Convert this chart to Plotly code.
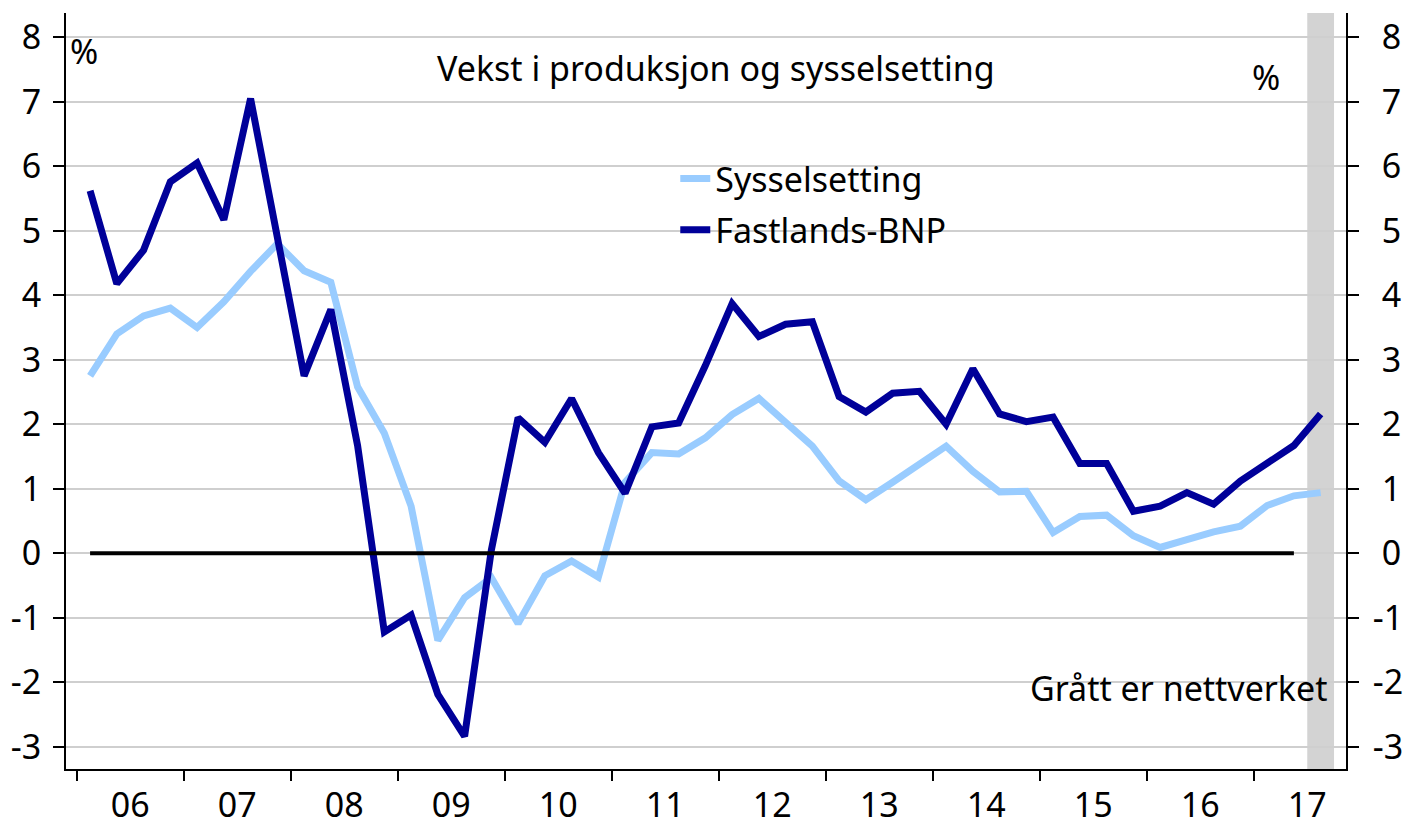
import plotly.graph_objects as go

# ---- data ----
start_year = 2006
n_quarters = 47  # 2006Q1 .. 2017Q3

fastlands_bnp = [5.62, 4.18, 4.70, 5.76, 6.05, 5.17, 7.05, 4.85, 2.75, 3.78,
                 1.67, -1.22, -0.96, -2.19, -2.84, 0.05, 2.10, 1.72, 2.40, 1.56,
                 0.93, 1.96, 2.02, 2.91, 3.87, 3.36, 3.55, 3.59, 2.43, 2.19,
                 2.48, 2.51, 2.00, 2.86, 2.16, 2.04, 2.11, 1.39, 1.39, 0.65,
                 0.73, 0.94, 0.76, 1.12, 1.41, 1.67, 2.16]
sysselsetting = [2.75, 3.40, 3.68, 3.80, 3.50, 3.90, 4.37, 4.80, 4.38, 4.20,
                 2.58, 1.86, 0.73, -1.35, -0.69, -0.38, -1.09, -0.35, -0.12, -0.37,
                 1.10, 1.56, 1.54, 1.79, 2.15, 2.40, 2.03, 1.66, 1.12, 0.83,
                 1.10, 1.39, 1.66, 1.27, 0.95, 0.96, 0.32, 0.57, 0.59, 0.27,
                 0.09, 0.21, 0.33, 0.42, 0.74, 0.89, 0.94]
year_labels = ["06", "07", "08", "09", "10", "11", "12", "13", "14", "15", "16", "17"]
y_ticks = [-3, -2, -1, 0, 1, 2, 3, 4, 5, 6, 7, 8]
shaded_period = (2017.5, 2017.75)  # "nettverket" quarter

# quarter midpoints as fractional years
x = [start_year + (i // 4) + ((i % 4) + 0.5) / 4 for i in range(n_quarters)]
year_vals = [start_year + k for k in range(len(year_labels))]

FONT = "Noto Sans"
FS = 34
LIGHT = "#99ccff"
DARK = "#000099"

fig = go.Figure()
fig.add_trace(go.Scatter(x=x, y=sysselsetting, mode="lines", name="Sysselsetting",
                         line=dict(color=LIGHT, width=7), legendgroup="a"))
fig.add_trace(go.Scatter(x=x, y=fastlands_bnp, mode="lines", name="Fastlands-BNP",
                         line=dict(color=DARK, width=7), legendgroup="b"))
# zero line across the data period (excluding the last, preliminary quarter)
fig.add_trace(go.Scatter(x=x[:-1], y=[0] * (n_quarters - 1), mode="lines",
                         line=dict(color="black", width=4), showlegend=False,
                         hoverinfo="skip"))
# dummy trace for right axis
fig.add_trace(go.Scatter(x=[x[0]], y=[0], yaxis="y2", mode="lines",
                         line=dict(width=0), showlegend=False, hoverinfo="skip"))

fig.add_vrect(x0=shaded_period[0], x1=shaded_period[1], fillcolor="#d3d3d3",
              line_width=0, layer="below")

yr = [-3.346, 8.377]
fig.update_layout(
    width=1404, height=824,
    margin=dict(l=66, r=58, t=13, b=55),
    paper_bgcolor="white", plot_bgcolor="white",
    font=dict(family=FONT, size=FS, color="black"),
    showlegend=True,
    legend=dict(x=0.476, y=0.819, xanchor="left", yanchor="top",
                bgcolor="rgba(0,0,0,0)", font=dict(size=FS),
                tracegroupgap=4, itemwidth=30, traceorder="grouped"),
    xaxis=dict(range=[2005.90, 2017.862], showgrid=False, zeroline=False,
               automargin=False,
               showline=True, linecolor="black", linewidth=2,
               tickmode="array", tickvals=[v + 0.5 for v in year_vals],
               ticktext=year_labels, ticks="", ticklabelstandoff=5,
               minor=dict(tickmode="array", tickvals=year_vals, ticks="outside",
                          ticklen=10, tickwidth=2, tickcolor="black", showgrid=False)),
    yaxis=dict(range=yr, tickmode="array", tickvals=y_ticks,
               ticktext=[str(v) for v in y_ticks], automargin=False,
               ticklabelstandoff=5,
               showgrid=True, gridcolor="#cfcfcf", gridwidth=1.5, zeroline=False,
               showline=True, linecolor="black", linewidth=2,
               ticks="outside", ticklen=11, tickwidth=2, tickcolor="black"),
    yaxis2=dict(range=yr, overlaying="y", side="right", tickmode="array",
                tickvals=y_ticks, automargin=False, ticklabelstandoff=7,
                ticktext=[("\u00a0" if v >= 0 else "") + str(v) for v in y_ticks],
                showgrid=False, zeroline=False, showline=True, linecolor="black",
                linewidth=2, ticks="outside", ticklen=11, tickwidth=2, tickcolor="black"),
    annotations=[
        dict(text="Vekst i produksjon og sysselsetting", x=0.508, y=0.927,
             xref="paper", yref="paper", showarrow=False, xanchor="center", yanchor="middle"),
        dict(text="%", x=0.014, y=0.950, xref="paper", yref="paper", showarrow=False,
             xanchor="center", yanchor="middle"),
        dict(text="%", x=0.9375, y=0.915, xref="paper", yref="paper", showarrow=False,
             xanchor="center", yanchor="middle"),
        dict(text="Grått er nettverket", x=0.9867, y=0.107, xref="paper", yref="paper",
             showarrow=False, xanchor="right", yanchor="middle"),
    ],
)

# remove the default 8px page margin so the 1404x824 figure fills the window exactly
fig.write_html("out.html", config={"displayModeBar": False},
               post_script="document.body.style.margin='0';document.body.style.overflow='hidden';")
